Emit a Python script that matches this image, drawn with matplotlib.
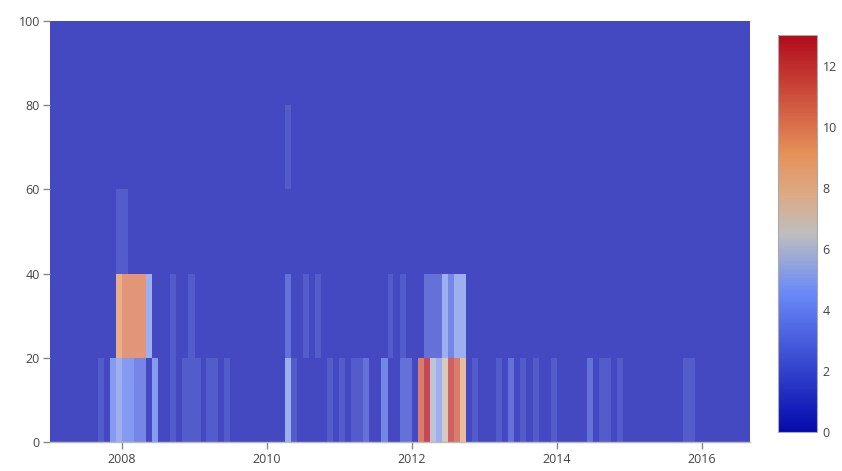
import numpy as np
import pandas as pd
import matplotlib
matplotlib.use("Agg")
from matplotlib import pyplot as plt
import matplotlib.dates as mdates
from matplotlib.colors import LinearSegmentedColormap, Normalize
from matplotlib.cm import ScalarMappable

# monthly bins along x, 20-wide bands along y
month_edges = pd.date_range("2007-01-01", "2016-09-01", freq="MS")
band_edges = [0, 20, 40, 60, 80, 100]

# non-empty cells per band: month -> count
band_0_20_months = ["2007-09", "2007-11", "2007-12", "2008-01", "2008-02", "2008-03",
                    "2008-04", "2008-06", "2008-09", "2008-11", "2008-12", "2009-01",
                    "2009-03", "2009-04", "2009-06", "2010-04", "2010-05", "2010-11",
                    "2011-01", "2011-03", "2011-04", "2011-05", "2011-08", "2011-11",
                    "2011-12", "2012-02", "2012-03", "2012-04", "2012-05", "2012-06",
                    "2012-07", "2012-08", "2012-09", "2012-11", "2013-03", "2013-05",
                    "2013-07", "2013-09", "2013-12", "2014-06", "2014-08", "2014-09",
                    "2014-11", "2015-10", "2015-11"]
band_0_20_counts = [1, 4, 5, 4, 4, 3,
                    3, 4, 1, 1, 1, 1,
                    1, 1, 1, 5, 1, 1,
                    1, 1, 1, 2, 3, 2,
                    2, 11, 13, 6, 5, 7,
                    12, 11, 8, 1, 1, 2,
                    1, 1, 1, 2, 1, 1,
                    1, 1, 1]

band_20_40_months = ["2007-12", "2008-01", "2008-02", "2008-03", "2008-04", "2008-05",
                     "2008-09", "2008-12", "2010-04", "2010-07", "2010-09", "2011-09",
                     "2011-11", "2012-03", "2012-04", "2012-05", "2012-06", "2012-07",
                     "2012-08", "2012-09"]
band_20_40_counts = [9, 10, 10, 10, 10, 5,
                     1, 1, 2, 1, 1, 1,
                     1, 2, 2, 2, 5, 3,
                     5, 5]

band_40_60_months = ["2007-12", "2008-01"]
band_40_60_counts = [1, 1]

band_60_80_months = ["2010-04"]
band_60_80_counts = [1]

bands = [(band_0_20_months, band_0_20_counts),
         (band_20_40_months, band_20_40_counts),
         (band_40_60_months, band_40_60_counts),
         (band_60_80_months, band_60_80_counts)]

counts = np.zeros((len(band_edges) - 1, len(month_edges) - 1))
month_index = {d.strftime("%Y-%m"): i for i, d in enumerate(month_edges[:-1])}
for row, (months, vals) in enumerate(bands):
    for m, v in zip(months, vals):
        counts[row, month_index[m]] = v

# plotly-style RdBu, low values blue
rdbu = LinearSegmentedColormap.from_list("rdbu", [
    (0.0, (5/255, 10/255, 172/255)),
    (0.35, (106/255, 137/255, 247/255)),
    (0.5, (190/255, 190/255, 190/255)),
    (0.6, (220/255, 170/255, 132/255)),
    (0.7, (230/255, 145/255, 90/255)),
    (1.0, (178/255, 10/255, 28/255)),
])
norm = Normalize(vmin=0, vmax=13)

plt.rcParams['font.family'] = ['Open Sans', 'DejaVu Sans']
fig = plt.figure(figsize=(8.42, 4.71), dpi=100)
ax = fig.add_axes([0.0588, 0.0616, 0.8319, 0.8938])

x = mdates.date2num(month_edges.to_pydatetime())
ax.pcolormesh(x, band_edges, counts, cmap=rdbu, norm=norm, alpha=0.75,
              shading="flat", antialiased=False, linewidth=0, edgecolors="none")
ax.set_xlim(x[0], x[-1])
ax.set_ylim(0, 100)
ax.xaxis_date()
ax.xaxis.set_major_locator(mdates.YearLocator(2))
ax.xaxis.set_major_formatter(mdates.DateFormatter("%Y"))
ax.set_yticks([0, 20, 40, 60, 80, 100])

for s in ["top", "right", "left"]:
    ax.spines[s].set_visible(False)
ax.spines["bottom"].set_color("#bbbbbb")
ax.spines["bottom"].set_linewidth(1)
ax.tick_params(axis="both", colors="#444444", labelsize=9, length=5, width=1)
ax.tick_params(axis="x", color="#888888", pad=3)
ax.tick_params(axis="y", color="#888888", pad=2)

cax = fig.add_axes([0.924, 0.0828, 0.0463, 0.8429])
cb = fig.colorbar(ScalarMappable(norm=norm, cmap=rdbu), cax=cax,
                  ticks=[0, 2, 4, 6, 8, 10, 12])
cb.outline.set_edgecolor("#aaaaaa")
cb.outline.set_linewidth(0.8)
cax.tick_params(length=0, colors="#444444", labelsize=9, pad=4)

fig.savefig("out.png", dpi=100)
